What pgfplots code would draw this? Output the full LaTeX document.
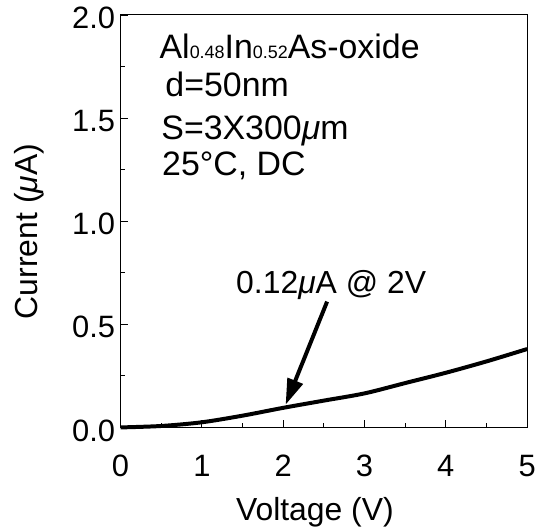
\documentclass[border=0pt]{standalone}
\usepackage{pgfplots}
\pgfplotsset{compat=1.18}
\usepackage{fontspec}
\setmainfont{Liberation Sans}
\usetikzlibrary{arrows.meta}
\begin{document}
\begin{tikzpicture}
\begin{axis}[
  scale only axis,
  width=408pt, height=414pt,
  xmin=0, xmax=5, ymin=0, ymax=2.0,
  xtick={0,1,2,3,4,5},
  ytick={0,0.5,1.0,1.5,2.0},
  minor xtick={0.5,1.5,2.5,3.5,4.5},
  minor ytick={0.25,0.75,1.25,1.75},
  xtick pos=bottom, ytick pos=left,
  tick align=inside,
  major tick length=7pt, minor tick length=4pt,
  axis line style={line width=1pt},
  tick style={line width=0.8pt, black},
  /pgf/number format/assume math mode=true,
  yticklabel style={/pgf/number format/fixed, /pgf/number format/fixed zerofill, /pgf/number format/precision=1, xshift=-2pt, yshift=-3pt},
  ticklabel style={font=\fontsize{31}{31}\selectfont},
  xticklabel style={yshift=-24pt},
  xlabel={Voltage (V)},
  ylabel={Current (\textit{μ}A)},
  label style={font=\fontsize{32}{32}\selectfont},
  xlabel style={at={(axis description cs:0.478,-0.205)}, anchor=center},
  ylabel style={at={(axis description cs:-0.225,0.475)}, anchor=center},
  clip=false,
]
\addplot[black, line width=4pt, smooth] coordinates {
 (0,0) (0.5,0.007) (1,0.025) (1.5,0.057) (2,0.095) (2.5,0.13) (3,0.165) (3.5,0.215) (4,0.265) (4.5,0.32) (5,0.38)
};
\draw[line width=4pt, -{Triangle[length=26pt,width=16pt]}] (axis cs:2.54,0.61) -- (axis cs:2.03,0.11);
\node[anchor=base west, inner sep=0pt, font=\fontsize{32}{32}\selectfont] at (axis cs:1.42,0.647) {0.12\textit{μ}A @ 2V};
\node[anchor=base west, inner sep=0pt, font=\fontsize{34}{34}\selectfont] at (axis cs:0.478,1.787) {Al{\fontsize{18}{18}\selectfont 0.48}In{\fontsize{18}{18}\selectfont 0.52}As-oxide};
\node[anchor=base west, inner sep=0pt, font=\fontsize{34}{34}\selectfont] at (axis cs:0.55,1.604) {d=50nm};
\node[anchor=base west, inner sep=0pt, font=\fontsize{34}{34}\selectfont] at (axis cs:0.50,1.396) {S=3X300\textit{μ}m};
\node[anchor=base west, inner sep=0pt, font=\fontsize{34}{34}\selectfont] at (axis cs:0.51,1.222) {25°C, DC};
\path (rel axis cs:-0.2966,-0.2512) rectangle (rel axis cs:1.0245,1.0362);
\end{axis}
\end{tikzpicture}
\end{document}
